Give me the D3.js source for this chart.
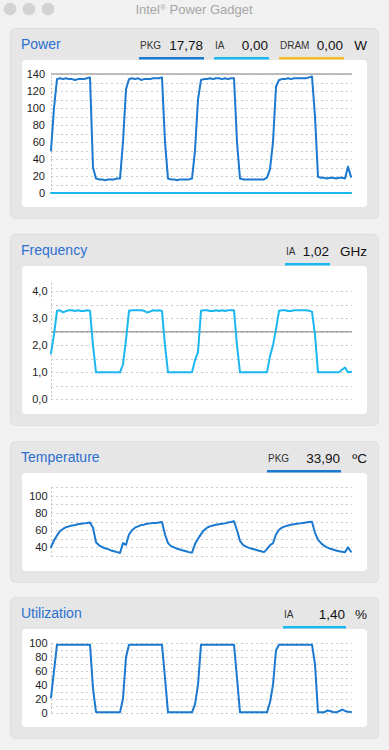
<!DOCTYPE html>
<html>
<head>
<meta charset="utf-8">
<title>Intel® Power Gadget</title>
<script src="https://cdn.jsdelivr.net/npm/d3@7"></script>
<style>
  html, body { margin: 0; padding: 0; background: #f1f1f1; }
  svg { display: block; font-family: "Liberation Sans", Arial, sans-serif; }
  .grid line { stroke: #c9c9c9; stroke-dasharray: 2,3; shape-rendering: crispEdges; }
  .ticks text { font-size: 11px; fill: #222; }
  .trace { fill: none; stroke-width: 2; stroke-linejoin: round; stroke-linecap: round; }
</style>
</head>
<body>
<svg width="389" height="750"></svg>
<script>
'use strict';

// one sample per tick of the gadget, oldest first
var pkgPower = [
    50, 100, 134, 135, 134, 135, 134, 134, 133, 134, 134, 134, 135, 136,
    30, 17, 16, 16, 15, 16, 16, 16, 17, 17,
    60, 122, 134, 135, 134, 135, 133, 134, 134, 134, 135, 135, 135, 136,
    60, 17, 16, 16, 15, 16, 16, 16, 16, 17,
    50, 110, 133, 134, 134, 135, 134, 135, 135, 134, 135, 134, 135, 135,
    60, 17, 16, 16, 16, 16, 16, 16, 16, 16,
    18, 28, 60, 125, 133, 134, 134, 135, 134, 135, 135, 135, 135, 135, 136, 137,
    90, 19, 18, 18, 17, 18, 18, 17, 18, 18, 17, 31, 19
];
var iaPower = [
    0, 0, 0, 0, 0, 0, 0, 0, 0, 0, 0, 0, 0, 0, 0, 0, 0, 0, 0, 0, 0, 0, 0, 0, 0,
    0, 0, 0, 0, 0, 0, 0, 0, 0, 0, 0, 0, 0, 0, 0, 0, 0, 0, 0, 0, 0, 0, 0, 0, 0,
    0, 0, 0, 0, 0, 0, 0, 0, 0, 0, 0, 0, 0, 0, 0, 0, 0, 0, 0, 0, 0, 0, 0, 0, 0,
    0, 0, 0, 0, 0, 0, 0, 0, 0, 0, 0, 0, 0, 0, 0, 0, 0, 0, 0, 0, 0, 0, 0, 0, 0, 0
];
var dramPower = [
    0, 0, 0, 0, 0, 0, 0, 0, 0, 0, 0, 0, 0, 0, 0, 0, 0, 0, 0, 0, 0, 0, 0, 0, 0,
    0, 0, 0, 0, 0, 0, 0, 0, 0, 0, 0, 0, 0, 0, 0, 0, 0, 0, 0, 0, 0, 0, 0, 0, 0,
    0, 0, 0, 0, 0, 0, 0, 0, 0, 0, 0, 0, 0, 0, 0, 0, 0, 0, 0, 0, 0, 0, 0, 0, 0,
    0, 0, 0, 0, 0, 0, 0, 0, 0, 0, 0, 0, 0, 0, 0, 0, 0, 0, 0, 0, 0, 0, 0, 0, 0, 0
];
var iaFrequency = [
    1.7, 2.4, 3.28, 3.3, 3.22, 3.27, 3.3, 3.3, 3.27, 3.3, 3.27, 3.27, 3.3, 3.28,
    2.0, 1.0, 1.0, 1.0, 1.0, 1.0, 1.0, 1.0, 1.0, 1.0,
    1.3, 2.2, 3.28, 3.3, 3.3, 3.3, 3.3, 3.28, 3.22, 3.25, 3.3, 3.28, 3.3, 3.27,
    2.0, 1.0, 1.0, 1.0, 1.0, 1.0, 1.0, 1.0, 1.0, 1.0,
    1.45, 1.75, 3.28, 3.3, 3.3, 3.27, 3.27, 3.3, 3.27, 3.3, 3.27, 3.3, 3.3, 3.3,
    2.0, 1.0, 1.0, 1.0, 1.0, 1.0, 1.0, 1.0, 1.0, 1.0, 1.0,
    1.6, 2.0, 2.6, 3.28, 3.3, 3.3, 3.27, 3.27, 3.3, 3.3, 3.3, 3.3, 3.3, 3.28, 3.25,
    2.4, 1.0, 1.0, 1.0, 1.0, 1.0, 1.0, 1.0, 1.0, 1.1, 1.18, 1.0, 1.02
];
var pkgTemperature = [
    40.5, 48, 54, 59, 61.5, 63.5, 64.5, 65.5, 66, 67, 67.5, 68, 68.5, 69,
    63, 46, 42.5, 40.5, 39, 38, 36.5, 35.5, 34.5, 33.5,
    45, 43, 55, 60, 63, 64.5, 66, 66.5, 67.5, 68, 68.5, 68.5, 69, 69.5,
    55, 45, 41.5, 40, 38.5, 37.5, 36.5, 35.5, 34.5, 34,
    44, 50, 55.5, 60, 63, 64.5, 65.5, 66.5, 67, 67.5, 68, 69, 69.5, 70.5,
    60, 47.5, 43, 41, 39.5, 38.5, 37.5, 36.5, 35.5, 34.5,
    38, 42.5, 45, 55, 60.5, 63, 64.5, 65.5, 66.5, 67, 67.5, 68, 68.5, 69, 69.5, 70,
    57, 49, 45, 42, 40, 38.5, 37.5, 36.5, 35.5, 35, 34.5, 40, 35
];
var iaUtilization = [
    22, 60, 98, 98, 98, 98, 98, 98, 98, 98, 98, 98, 98, 98,
    35, 1, 0.5, 0.5, 0.5, 0.5, 0.5, 0.5, 0.5, 0.5,
    20, 80, 98, 98, 98, 98, 98, 98, 98, 98, 98, 98, 98, 98,
    50, 0.5, 0.5, 0.5, 0.5, 0.5, 0.5, 0.5, 0.5, 0.5,
    12, 40, 98, 98, 98, 98, 98, 98, 98, 98, 98, 98, 98, 98,
    50, 0.5, 0.5, 0.5, 0.5, 0.5, 0.5, 0.5, 0.5, 0.5, 0.5,
    15, 40, 90, 98, 98, 98, 98, 98, 98, 98, 98, 98, 98, 98, 98,
    70, 0.5, 0.5, 0.5, 3, 2.5, 1, 0.5, 2, 4.5, 2.5, 1.5, 1
];

// tick labels
var powerTicks = [0, 20, 40, 60, 80, 100, 120, 140];
var frequencyTicks = [0, 1, 2, 3, 4];
var temperatureTicks = [40, 60, 80, 100];
var utilizationTicks = [0, 20, 40, 60, 80, 100];

// legends: current readings
var powerNames = ['PKG', 'IA', 'DRAM'];
var powerReadings = [17.78, 0.00, 0.00];
var frequencyNames = ['IA'];
var frequencyReadings = [1.02];
var temperatureNames = ['PKG'];
var temperatureReadings = [33.90];
var utilizationNames = ['IA'];
var utilizationReadings = [1.40];
var units = ['W', 'GHz', 'ºC', '%'];

var PKG = '#1b79d0',
    IA = '#1bb7f0',
    DRAM = '#f6bd2c';

var comma = d3.formatLocale({decimal: ',', thousands: '.', grouping: [3], currency: ['', '']});

var svg = d3.select('svg');

// title bar
[10, 29, 48].forEach(function (cx) {
    svg.append('circle')
        .attr('cx', cx)
        .attr('cy', 9)
        .attr('r', 6)
        .attr('fill', '#d3d3d3')
        .attr('stroke', '#c8c8c8')
        .attr('stroke-width', 0.5);
});
var heading = svg.append('text')
    .attr('x', 194)
    .attr('y', 14)
    .attr('text-anchor', 'middle')
    .attr('font-size', 13)
    .attr('fill', '#a6a6a6');
heading.append('tspan').text('Intel');
heading.append('tspan').attr('font-size', 8).attr('dy', -4).text('®');
heading.append('tspan').attr('dy', 4).text(' Power Gadget');

var charts = [
    {
        title: 'Power', top: 28, height: 190,
        domain: [0, 140], range: [193, 74], axisTop: 76, step: 10, pad: 6,
        ticks: powerTicks, fmt: comma.format('d'), ref: 140,
        series: [[dramPower, DRAM], [iaPower, IA], [pkgPower, PKG]],
        names: powerNames, readings: powerReadings, unit: units[0],
        colors: [PKG, IA, DRAM], slots: [[139, 204], [214, 269], [279, 344]]
    },
    {
        title: 'Frequency', top: 234, height: 191,
        domain: [0, 4.3], range: [399.3, 283.3], axisTop: 283, step: 0.5, pad: 3.5,
        ticks: frequencyTicks, fmt: comma.format('.1f'), ref: 2.5,
        series: [[iaFrequency, IA]],
        names: frequencyNames, readings: frequencyReadings, unit: units[1],
        colors: [IA], slots: [[285, 330]]
    },
    {
        title: 'Temperature', top: 441, height: 141,
        domain: [30, 110], range: [556, 487.3], axisTop: 487, step: 10, pad: 3.5,
        ticks: temperatureTicks, fmt: comma.format('d'), ref: null,
        series: [[pkgTemperature, PKG]],
        names: temperatureNames, readings: temperatureReadings, unit: units[2],
        colors: [PKG], slots: [[267, 341]]
    },
    {
        title: 'Utilization', top: 597, height: 141,
        domain: [0, 100], range: [712.7, 643.3], axisTop: 643, step: 10, pad: 3.5,
        ticks: utilizationTicks, fmt: comma.format('d'), ref: null,
        series: [[iaUtilization, PKG]],
        names: utilizationNames, readings: utilizationReadings, unit: units[3],
        colors: [IA], slots: [[283, 346]]
    }
];

var x = d3.scaleLinear()
    .domain([0, pkgPower.length - 1])
    .range([51, 351]);

charts.forEach(function (chart) {
    var g = svg.append('g'),
        y = d3.scaleLinear().domain(chart.domain).range(chart.range);

    // panel + white plot card
    g.append('rect')
        .attr('x', 10.5)
        .attr('y', chart.top + 0.5)
        .attr('width', 368)
        .attr('height', chart.height)
        .attr('rx', 5)
        .attr('fill', '#e6e6e6')
        .attr('stroke', '#dedede');
    g.append('rect')
        .attr('x', 22)
        .attr('y', chart.top + 32)
        .attr('width', 345)
        .attr('height', chart.height - 43)
        .attr('rx', 4)
        .attr('fill', '#fff');

    g.append('text')
        .attr('x', 21)
        .attr('y', chart.top + 20.5)
        .attr('font-size', 14)
        .attr('fill', '#2b70cf')
        .text(chart.title);

    // legend
    chart.names.forEach(function (name, i) {
        var slot = chart.slots[i];
        g.append('text')
            .attr('x', slot[0] + 1)
            .attr('y', chart.top + 21)
            .attr('font-size', 10)
            .attr('fill', '#333')
            .text(name);
        g.append('text')
            .attr('x', slot[1] - 1)
            .attr('y', chart.top + 21.5)
            .attr('text-anchor', 'end')
            .attr('font-size', 13.5)
            .attr('fill', '#111')
            .text(comma.format('.2f')(chart.readings[i]));
        g.append('rect')
            .attr('x', slot[0])
            .attr('y', chart.top + 29)
            .attr('width', slot[1] - slot[0])
            .attr('height', 2.5)
            .attr('fill', chart.colors[i]);
    });
    g.append('text')
        .attr('x', 367)
        .attr('y', chart.top + 21.5)
        .attr('text-anchor', 'end')
        .attr('font-size', 13.5)
        .attr('fill', '#111')
        .text(chart.unit);

    // grid
    var grid = g.append('g')
        .attr('class', 'grid')
        .attr('transform', 'translate(51,0)')
        .call(d3.axisLeft(y)
            .tickValues(d3.range(chart.domain[0], chart.domain[1] + 1e-6, chart.step))
            .tickSize(-301)
            .tickFormat(''));
    grid.select('.domain').remove();

    g.append('line')
        .attr('x1', 51.5)
        .attr('x2', 51.5)
        .attr('y1', chart.axisTop)
        .attr('y2', chart.range[0] + 1)
        .attr('stroke', '#c9c9c9')
        .attr('stroke-dasharray', '2,2');

    var ticks = g.append('g')
        .attr('class', 'ticks')
        .attr('transform', 'translate(51,0)')
        .call(d3.axisLeft(y)
            .tickValues(chart.ticks)
            .tickSize(0)
            .tickPadding(chart.pad)
            .tickFormat(chart.fmt));
    ticks.select('.domain').remove();

    if (chart.ref !== null) {
        g.append('line')
            .attr('x1', 51)
            .attr('x2', 352)
            .attr('y1', y(chart.ref))
            .attr('y2', y(chart.ref))
            .attr('stroke', '#a8a8a8')
            .attr('stroke-width', 1.5);
    }

    var line = d3.line()
        .x(function (d, i) { return x(i); })
        .y(function (d) { return y(d); });

    chart.series.forEach(function (s) {
        g.append('path')
            .attr('class', 'trace')
            .attr('stroke', s[1])
            .attr('d', line(s[0]));
    });
});
</script>
</body>
</html>
